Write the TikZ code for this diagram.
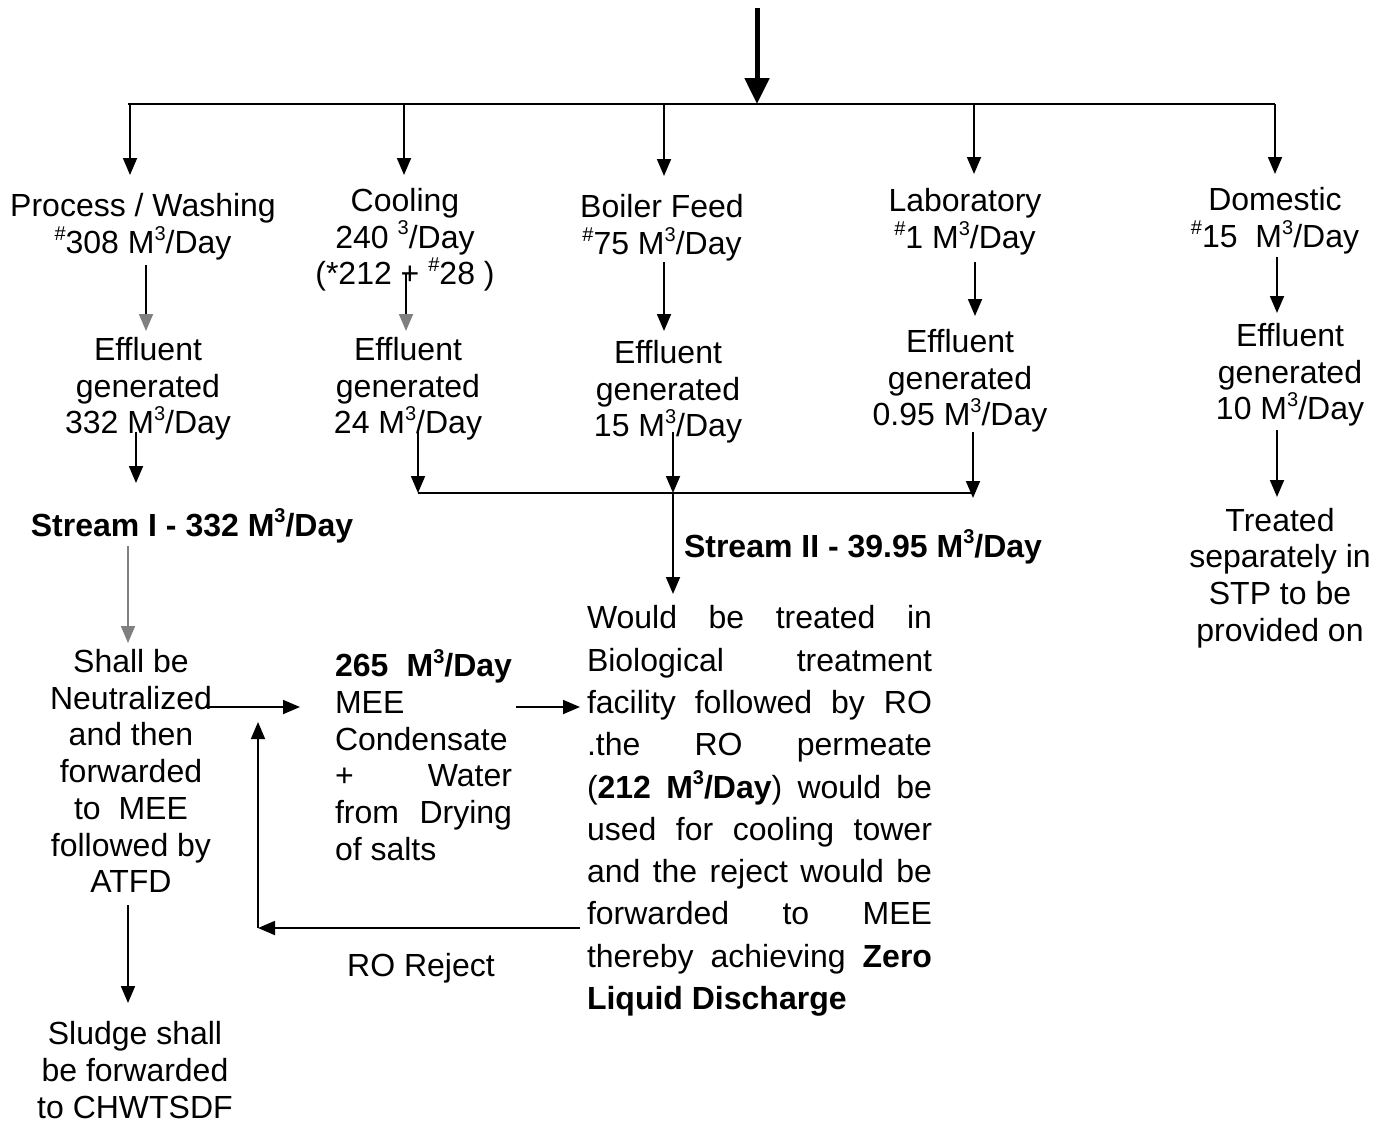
\documentclass[tikz,border=0pt]{standalone}
\usepackage{fontspec}
\setmainfont{Liberation Sans}
\usetikzlibrary{arrows.meta}
\newcommand{\spx}[1]{\raisebox{0.42em}{\fontsize{20}{20}\selectfont #1}}
\newcommand{\sq}{M\spx{3}/Day}
\newcommand{\hs}{\spx{\#}}
\begin{document}
\begin{tikzpicture}[x=1pt,y=-1pt,
  txt/.style={inner sep=0pt, align=center, font=\fontsize{32}{36.7}\selectfont},
  par/.style={inner sep=0pt, align=left},
  arr/.style={line width=1.8pt, -{Triangle[length=17pt,width=14pt]}},
  garr/.style={line width=1.8pt, -{Triangle[length=17pt,width=14pt,color=gray]}},
  gline/.style={line width=1.8pt, draw=gray, -{Triangle[length=17pt,width=14pt,color=gray]}},
  ln/.style={line width=1.8pt},
  big/.style={line width=5pt, -{Triangle[length=26pt,width=24pt]}},
]
\useasboundingbox (0,0) rectangle (1380,1124);

% source nodes
\node[txt] (n1) at (143,227) {Process / Washing\\\hs308 \sq};
\node[txt] (n2) at (405,240) {Cooling\\240 \spx{3}/Day\\(*212 + \hs28 )};
\node[txt] (n3) at (662,228) {Boiler Feed\\\hs75 \sq};
\node[txt] (n4) at (965,222) {Laboratory\\\hs1 \sq};
\node[txt] (n5) at (1275,221) {Domestic\\\hs15\ \ \sq};

% effluent nodes
\node[txt] (e1) at (148,389) {Effluent\\generated\\332 \sq};
\node[txt] (e2) at (408,389) {Effluent\\generated\\24 \sq};
\node[txt] (e3) at (668,392) {Effluent\\generated\\15 \sq};
\node[txt] (e4) at (960,381) {Effluent\\generated\\0.95 \sq};
\node[txt] (e5) at (1290,375) {Effluent\\generated\\10 \sq};

% streams
\node[txt] (s1) at (192,526) {\textbf{Stream I - 332 \sq}};
\node[txt] (s2) at (863,547) {\textbf{Stream II - 39.95 \sq}};

\node[txt] (neu) at (131,771) {Shall be\\Neutralized\\and then\\forwarded\\to\ \ MEE\\followed by\\ATFD};
\node[txt] (sl) at (135,1070) {Sludge shall\\be forwarded\\to CHWTSDF};
\node[txt] (dom) at (1280,578) {Treated\\separately in\\STP to be\\provided on};
\node[txt] (ro) at (421,968) {RO Reject};

\node[par, font=\fontsize{32}{36.7}\selectfont] (mee) at (423.5,755) {%
\makebox[177pt][s]{\textbf{265 M\spx{3}/Day}}\\
MEE\\
Condensate\\
\makebox[177pt][s]{+ Water}\\
\makebox[177pt][s]{from Drying}\\
of salts};

\node[par, font=\fontsize{32}{42.3}\selectfont] (bio) at (759.5,811) {%
\makebox[345pt][s]{Would be treated in}\\
\makebox[345pt][s]{Biological treatment}\\
\makebox[345pt][s]{facility followed by RO}\\
\makebox[345pt][s]{.the RO permeate}\\
\makebox[345pt][s]{(\textbf{212 M\spx{3}/Day}) would be}\\
\makebox[345pt][s]{used for cooling tower}\\
\makebox[345pt][s]{and the reject would be}\\
\makebox[345pt][s]{forwarded to MEE}\\
\makebox[345pt][s]{thereby achieving \textbf{Zero}}\\
\textbf{Liquid Discharge}};

% coordinates
\coordinate (top) at (757,8);
\coordinate (jt) at (757,104);
\coordinate (hl) at (128,104);
\coordinate (hr) at (1275,104);
\coordinate (d1) at (130,104);
\coordinate (d2) at (404,104);
\coordinate (d3) at (664,104);
\coordinate (d4) at (974,104);
\coordinate (d5) at (1275,104);
\coordinate (t1) at (130,175);
\coordinate (t2) at (404,175);
\coordinate (t3) at (664,176);
\coordinate (t4) at (974,174);
\coordinate (t5) at (1275,174);

\draw[big] (top) -- (jt);
\draw[ln] (hl) -- (hr);
\draw[arr] (d1) -- (t1);
\draw[arr] (d2) -- (t2);
\draw[arr] (d3) -- (t3);
\draw[arr] (d4) -- (t4);
\draw[arr] (d5) -- (t5);

% source -> effluent
\coordinate (a1) at (146,265); \coordinate (b1) at (146,331);
\coordinate (a2) at (406,273); \coordinate (b2) at (406,331);
\coordinate (a3) at (664,262); \coordinate (b3) at (664,331);
\coordinate (a4) at (975,262); \coordinate (b4) at (975,316);
\coordinate (a5) at (1277,257); \coordinate (b5) at (1277,313);
\draw[garr] (a1) -- (b1);
\draw[garr] (a2) -- (b2);
\draw[arr] (a3) -- (b3);
\draw[arr] (a4) -- (b4);
\draw[arr] (a5) -- (b5);

% effluent -> streams
\coordinate (c1) at (136,432); \coordinate (f1) at (136,483);
\coordinate (c2) at (418,432); \coordinate (f2) at (418,493);
\coordinate (c3) at (673,432); \coordinate (f3) at (673,493);
\coordinate (c4) at (973,432); \coordinate (f4) at (973,498);
\coordinate (ml) at (418,493); \coordinate (mr) at (973,493);
\coordinate (mj) at (673,493); \coordinate (bt) at (673,594);
\draw[arr] (c1) -- (f1);
\draw[arr] (c2) -- (f2);
\draw[arr] (c3) -- (f3);
\draw[arr] (c4) -- (f4);
\draw[ln] (ml) -- (mr);
\draw[arr] (mj) -- (bt);

% domestic
\coordinate (g5) at (1277,430); \coordinate (h5) at (1277,497);
\draw[arr] (g5) -- (h5);

% stream I -> neutralize
\coordinate (s1a) at (128,546); \coordinate (s1b) at (128,643);
\draw[gline] (s1a) -- (s1b);

% neutralize -> mee -> bio
\coordinate (na) at (205,707); \coordinate (nb) at (300,707);
\coordinate (ma) at (516,707); \coordinate (mb) at (580,707);
\draw[arr] (na) -- (nb);
\draw[arr] (ma) -- (mb);

% RO reject loop
\coordinate (ra) at (580,928); \coordinate (rb) at (258,928);
\coordinate (rc) at (258,722);
\draw[arr] (ra) -- (rb);
\draw[arr] (rb) -- (rc);

% ATFD -> sludge
\coordinate (ua) at (128,905); \coordinate (ub) at (128,1003);
\draw[arr] (ua) -- (ub);
\end{tikzpicture}
\end{document}
